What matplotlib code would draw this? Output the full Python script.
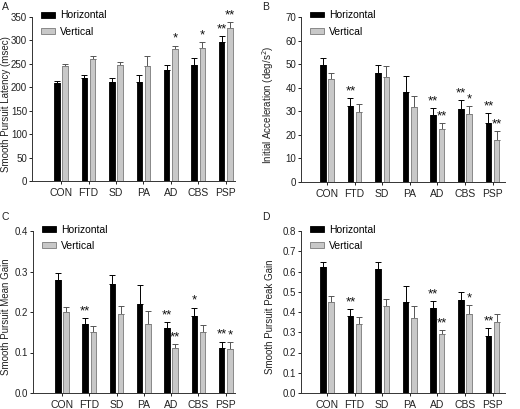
import matplotlib
matplotlib.use("Agg")
import matplotlib.pyplot as plt
from matplotlib.patches import Patch
import numpy as np

plt.rcParams['font.family'] = ['Liberation Sans', 'DejaVu Sans']

groups = ['CON', 'FTD', 'SD', 'PA', 'AD', 'CBS', 'PSP']

# A: latency (msec)
lat_h = [209, 219, 212, 211, 236, 247, 296]
lat_h_err = [5, 7, 7, 15, 11, 15, 14]
lat_v = [245, 260, 247, 246, 281, 284, 326]
lat_v_err = [5, 7, 7, 21, 8, 12, 13]
lat_h_star = ['', '', '', '', '', '', '**']
lat_v_star = ['', '', '', '', '*', '*', '**']

# B: initial acceleration (deg/s^2)
acc_h = [49.8, 32.1, 46.3, 38.0, 28.3, 31.0, 25.0]
acc_h_err = [3.0, 3.7, 3.5, 6.8, 3.2, 3.7, 4.3]
acc_v = [43.6, 29.8, 44.7, 31.8, 22.6, 28.7, 18.0]
acc_v_err = [2.6, 3.2, 4.3, 4.7, 2.6, 3.7, 3.5]
acc_h_star = ['', '**', '', '', '**', '**', '**']
acc_v_star = ['', '', '', '', '**', '*', '**']

# C: mean gain
mg_h = [0.28, 0.17, 0.27, 0.22, 0.16, 0.19, 0.11]
mg_h_err = [0.016, 0.016, 0.021, 0.047, 0.015, 0.021, 0.017]
mg_v = [0.20, 0.15, 0.196, 0.17, 0.112, 0.15, 0.109]
mg_v_err = [0.013, 0.016, 0.019, 0.033, 0.009, 0.019, 0.016]
mg_h_star = ['', '**', '', '', '**', '*', '**']
mg_v_star = ['', '', '', '', '**', '', '*']

# D: peak gain
pg_h = [0.62, 0.38, 0.61, 0.45, 0.42, 0.46, 0.28]
pg_h_err = [0.027, 0.036, 0.037, 0.08, 0.035, 0.04, 0.042]
pg_v = [0.45, 0.343, 0.43, 0.37, 0.29, 0.39, 0.35]
pg_v_err = [0.027, 0.033, 0.035, 0.06, 0.02, 0.045, 0.042]
pg_h_star = ['', '**', '', '', '**', '', '**']
pg_v_star = ['', '', '', '', '**', '*', '']

W, H = 520, 409
fig = plt.figure(figsize=(W / 100, H / 100), dpi=100)

def px_axes(l, r, t, b):
    return fig.add_axes([l / W, 1 - b / H, (r - l) / W, (b - t) / H])

def panel(ax, hv, he, vv, ve, hs, vs, ymax, ystep, ylabel, xlim, fmt, labx):
    x = np.arange(len(groups))
    w, off = 0.2, 0.15
    ax.bar(x - off, hv, w, color='black', edgecolor='black', linewidth=0.6, zorder=2)
    ax.bar(x + off, vv, w, color='#c8c8c8', edgecolor='#7a7a7a', linewidth=0.6, zorder=2)
    ax.errorbar(x - off, hv, yerr=[np.zeros(len(he)), he], fmt='none',
                ecolor='black', elinewidth=0.7, capsize=2, capthick=0.7, zorder=1)
    ax.errorbar(x + off, vv, yerr=[np.zeros(len(ve)), ve], fmt='none',
                ecolor='#555555', elinewidth=0.7, capsize=2, capthick=0.7, zorder=1)
    pad = ymax * 0.004
    for i in range(len(groups)):
        if hs[i]:
            ax.text(x[i] - off, hv[i] + he[i] + pad, hs[i], ha='center', va='bottom',
                    fontsize=9.5, linespacing=1, color='#111111')
        if vs[i]:
            ax.text(x[i] + off, vv[i] + ve[i] + pad, vs[i], ha='center', va='bottom',
                    fontsize=9.5, linespacing=1, color='#111111')
    ax.set_ylim(0, ymax)
    ax.set_yticks(np.arange(0, ymax + ystep / 2, ystep))
    ax.yaxis.set_major_formatter(plt.FormatStrFormatter(fmt))
    ax.set_xlim(*xlim)
    ax.set_xticks(x)
    ax.set_xticklabels(groups)
    ax.spines['top'].set_visible(False)
    ax.spines['right'].set_visible(False)
    for s in ('left', 'bottom'):
        ax.spines[s].set_linewidth(0.7)
        ax.spines[s].set_color('#333333')
    ax.tick_params(axis='y', length=2.5, width=0.7, labelsize=7, pad=1, colors='#222222')
    ax.tick_params(axis='x', length=2, width=0.7, labelsize=7.5, pad=3, colors='#222222')
    ax.set_ylabel(ylabel, fontsize=7, color='#222222')
    ax.yaxis.set_label_coords(labx, 0.47)
    handles = [Patch(facecolor='black', edgecolor='black', linewidth=0.6),
               Patch(facecolor='#c8c8c8', edgecolor='#7a7a7a', linewidth=0.6)]
    ax.legend(handles, ['Horizontal', 'Vertical'], loc='upper left', bbox_to_anchor=(0.045, 1.04),
              frameon=False, fontsize=7.5, handlelength=1.3, handleheight=0.45,
              handletextpad=0.5, labelspacing=0.6, borderaxespad=0, borderpad=0)

axA = px_axes(32, 235, 17, 181)
panel(axA, lat_h, lat_h_err, lat_v, lat_v_err, lat_h_star, lat_v_star,
      350, 50, 'Smooth Pursuit Latency (msec)', (-1.06, 6.34), '%d', -0.104)
axB = px_axes(301, 505, 17, 182)
panel(axB, acc_h, acc_h_err, acc_v, acc_v_err, acc_h_star, acc_v_star,
      70, 10, 'Initial Acceleration (deg/s$^2$)', (-0.94, 6.45), '%d', -0.125)
axC = px_axes(33, 235, 231, 393)
panel(axC, mg_h, mg_h_err, mg_v, mg_v_err, mg_h_star, mg_v_star,
      0.4, 0.1, 'Smooth Pursuit Mean Gain', (-1.06, 6.34), '%.1f', -0.11)
axD = px_axes(301, 505, 231, 393)
panel(axD, pg_h, pg_h_err, pg_v, pg_v_err, pg_h_star, pg_v_star,
      0.8, 0.1, 'Smooth Pursuit Peak Gain', (-0.94, 6.45), '%.1f', -0.127)

for lab, xp, yp in [('A', 2, 2), ('B', 262, 2), ('C', 2, 212), ('D', 262, 212)]:
    fig.text(xp / W, 1 - yp / H, lab, fontsize=7.5, ha='left', va='top', color='#222222')

fig.savefig('out.png', dpi=100)
